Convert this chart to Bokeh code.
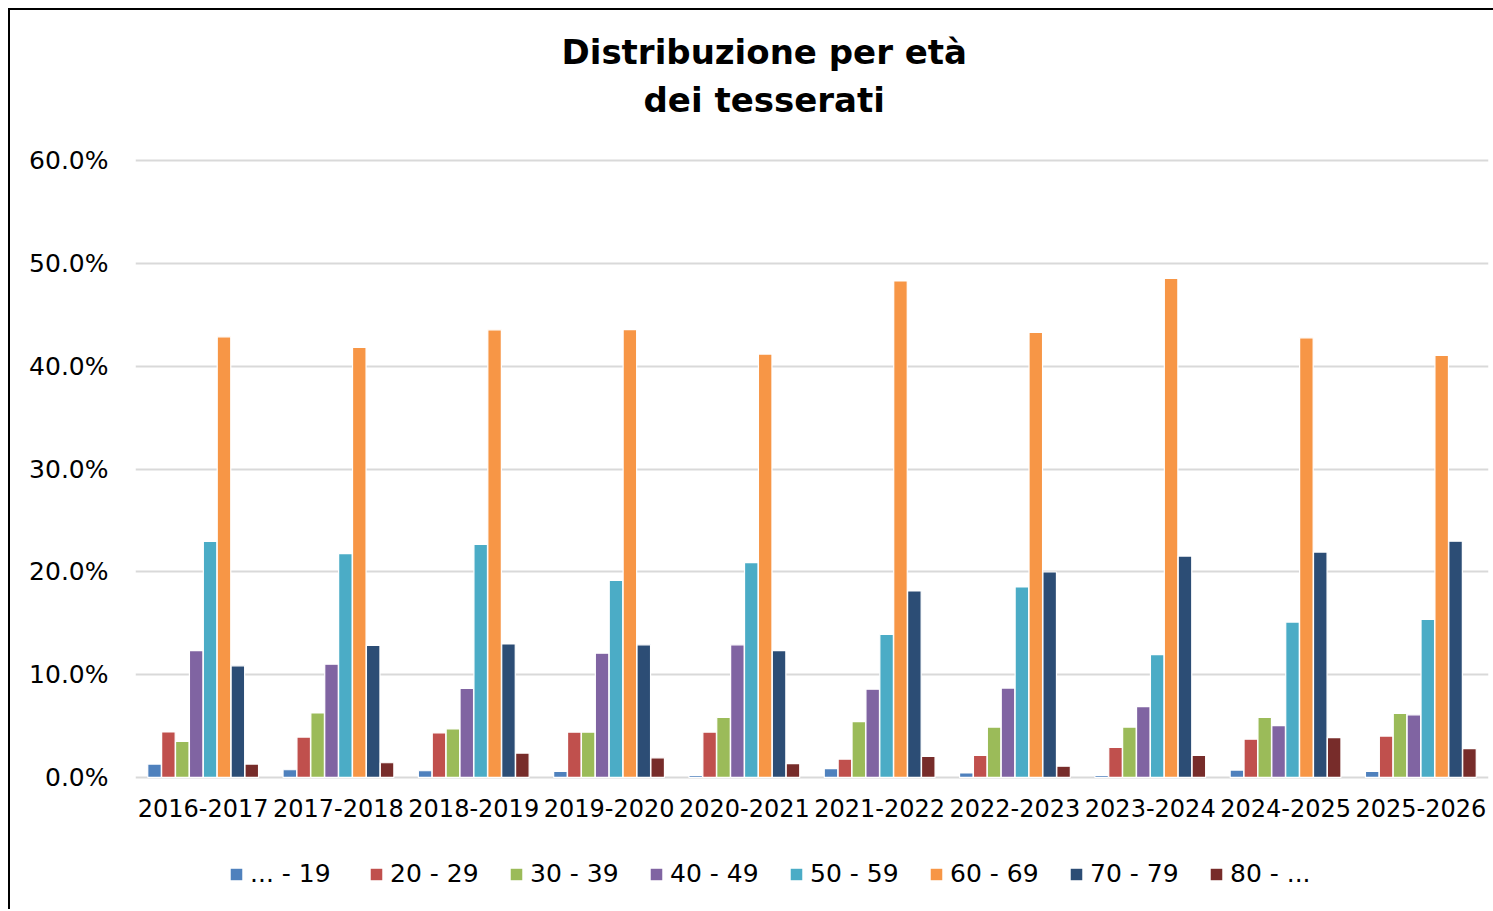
from bokeh.plotting import figure
from bokeh.layouts import column
from bokeh.models import (FactorRange, Range1d, ColumnDataSource, FixedTicker,
                          PrintfTickFormatter, Legend, LegendItem, Title)
from bokeh.transform import dodge
from bokeh.embed import file_html
from bokeh.resources import INLINE

# ---------------- data ----------------
categories = ["2016-2017", "2017-2018", "2018-2019", "2019-2020", "2020-2021",
              "2021-2022", "2022-2023", "2023-2024", "2024-2025", "2025-2026"]

series_labels = ["... - 19", "20 - 29", "30 - 39", "40 - 49",
                 "50 - 59", "60 - 69", "70 - 79", "80 - ..."]

age_under_19 = [1.30, 0.75, 0.65, 0.59, 0.20, 0.86, 0.43, 0.20, 0.72, 0.59]
age_20_29 = [4.42, 3.93, 4.33, 4.41, 4.41, 1.78, 2.14, 2.93, 3.72, 4.02]
age_30_39 = [3.51, 6.28, 4.72, 4.41, 5.83, 5.43, 4.90, 4.90, 5.83, 6.22]
age_40_49 = [12.33, 11.02, 8.65, 12.08, 12.90, 8.59, 8.69, 6.88, 5.04, 6.09]
age_50_59 = [22.96, 21.76, 22.67, 19.16, 20.90, 13.92, 18.53, 11.95, 15.11, 15.37]
age_60_69 = [42.86, 41.82, 43.54, 43.55, 41.18, 48.29, 43.29, 48.55, 42.76, 41.05]
age_70_79 = [10.86, 12.85, 12.98, 12.90, 12.34, 18.14, 19.98, 21.53, 21.92, 22.98]
age_80_plus = [1.30, 1.43, 2.37, 1.91, 1.35, 2.04, 1.09, 2.14, 3.88, 2.80]

y_ticks = [0, 10, 20, 30, 40, 50, 60]

colors = ["#4F81BD", "#C0504D", "#9BBB59", "#8064A2",
          "#4BACC6", "#F79646", "#2C4D75", "#772C2A"]

title_line1 = "Distribuzione per età"
title_line2 = "dei tesserati"

# ---------------- main figure ----------------
series = [age_under_19, age_20_29, age_30_39, age_40_49,
          age_50_59, age_60_69, age_70_79, age_80_plus]
keys = ["s%d" % i for i in range(len(series))]
data = {"cat": categories}
for k, s in zip(keys, series):
    data[k] = s
source = ColumnDataSource(data=data)

FONT = "DejaVu Sans"
W = 1483
xr = FactorRange(factors=categories, range_padding=0)

p = figure(x_range=xr, y_range=Range1d(-0.2, 60.2),
           width=W, height=835,
           output_backend="svg", toolbar_location=None, title=None,
           min_border_left=125, min_border_right=5,
           min_border_top=148, min_border_bottom=66)
p.outline_line_color = None
p.background_fill_color = "white"
p.border_fill_color = "white"

n = len(series)
slot = 0.1027


def add_bars(fig):
    rs = []
    for i, (k, col) in enumerate(zip(keys, colors)):
        rs.append(fig.vbar(x=dodge("cat", (i - (n - 1) / 2) * slot, range=xr),
                           top=k, bottom=0, width=0.1, source=source,
                           fill_color=col, line_color="white", line_width=1.2))
    return rs


add_bars(p)

# axes
p.yaxis.ticker = FixedTicker(ticks=y_ticks)
p.yaxis.formatter = PrintfTickFormatter(format="%.1f%%")
for ax in (p.xaxis[0], p.yaxis[0]):
    ax.axis_line_color = None
    ax.major_tick_line_color = None
    ax.minor_tick_line_color = None
    ax.major_tick_out = 0
    ax.major_tick_in = 0
    ax.major_label_text_font = FONT
    ax.major_label_text_color = "#000000"
p.yaxis.major_label_text_font_size = "25px"
p.yaxis.major_label_standoff = 27
p.xaxis.major_label_text_font_size = "24px"
p.xaxis.major_label_standoff = 19

p.xgrid.grid_line_color = None
p.ygrid.ticker = FixedTicker(ticks=y_ticks)
p.ygrid.grid_line_color = "#D9D9D9"
p.ygrid.grid_line_width = 2

# blank spacer panel between the plot area and the two-line title
gap = Title(text=" ", align="left", standoff=10, text_font=FONT,
            text_font_size="20px", text_color="white")
p.add_layout(gap, "above")

t2 = Title(text=title_line2, align="left", offset=508, standoff=6,
           text_font=FONT, text_font_style="bold", text_font_size="34px",
           text_color="#000000")
t1 = Title(text=title_line1, align="left", offset=426, standoff=6,
           text_font=FONT, text_font_style="bold", text_font_size="34px",
           text_color="#000000")
p.add_layout(t2, "above")
p.add_layout(t1, "above")

# ---------------- legend strip ----------------
# same bar renderers, with a y range above the data so no bar falls in view
pl = figure(x_range=xr, y_range=Range1d(1000, 1005),
            width=W, height=64, output_backend="svg", toolbar_location=None,
            title=None, x_axis_location=None, y_axis_location=None,
            min_border=0)
pl.outline_line_color = None
pl.grid.visible = False
pl.background_fill_color = "white"
pl.border_fill_color = "white"

legend_renderers = add_bars(pl)
items = [LegendItem(label=lab, renderers=[r])
         for lab, r in zip(series_labels, legend_renderers)]

legend = Legend(items=items, orientation="horizontal", location=(93, 21),
                glyph_width=16, glyph_height=16, label_standoff=6,
                label_width=92, spacing=26, padding=0, margin=0,
                border_line_color=None, background_fill_alpha=0,
                label_text_font=FONT, label_text_font_size="25px",
                label_text_color="#000000")
pl.add_layout(legend)

layout = column(p, pl, spacing=0)
layout.styles = {"margin-left": "8px", "margin-top": "8px",
                 "border-left": "2px solid #000000",
                 "border-top": "2px solid #000000"}

open("out.html", "w").write(file_html(layout, INLINE))
